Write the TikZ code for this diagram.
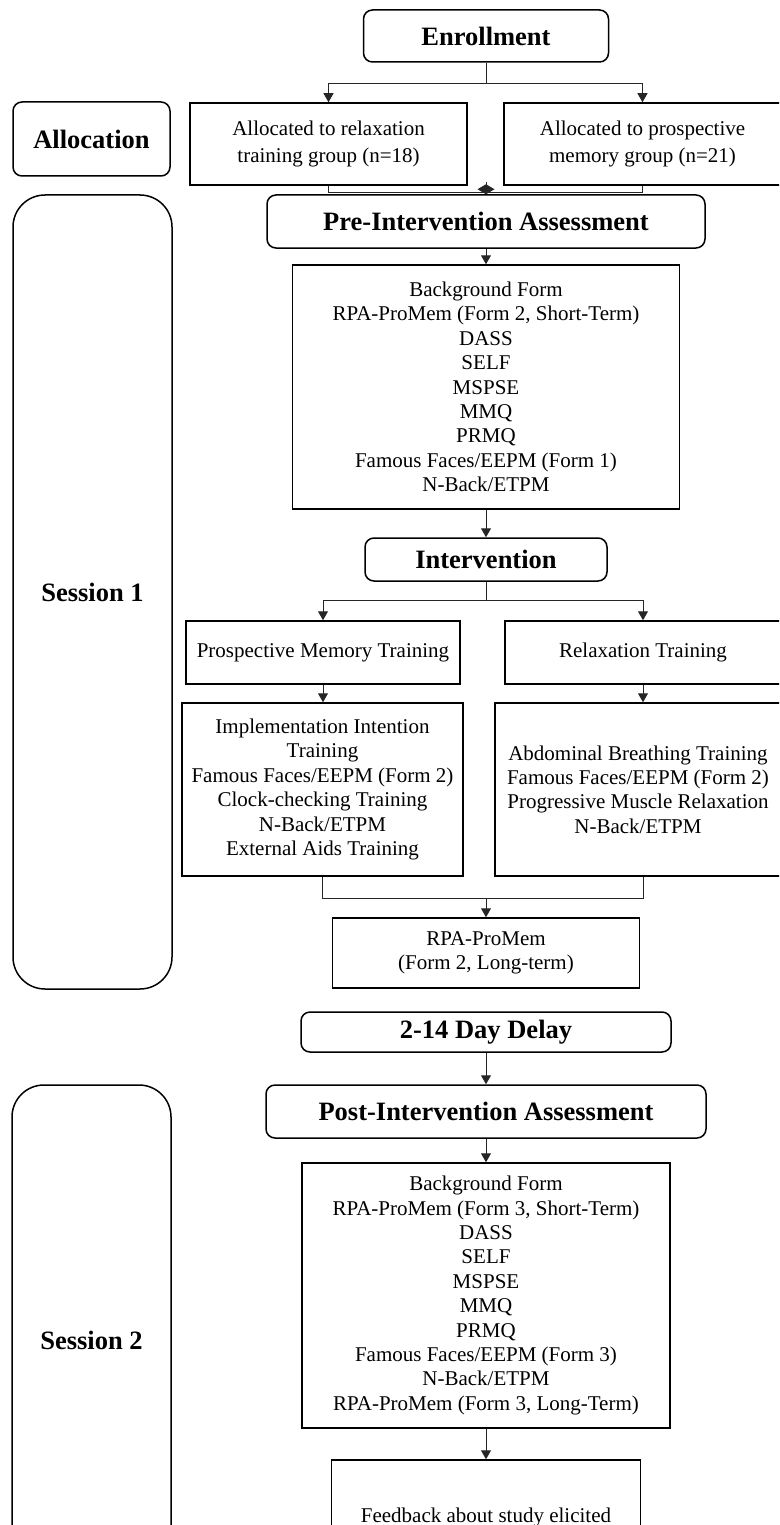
\documentclass[tikz,border=0pt]{standalone}
\usepackage{fontspec}
\setmainfont{Liberation Serif}
\usetikzlibrary{arrows.meta}
\newcommand\tRad{9pt}
\newcommand\sRad{32pt}
\newcommand\bFont{\fontsize{21}{24.4}\selectfont}
\newcommand\hFont{\fontsize{26.5}{30}\selectfont\bfseries}
\tikzstyle{block} = [rectangle, draw=black, line width=1.5pt, inner sep=0pt, align=center, font=\bFont]
\tikzstyle{stage} = [rectangle, rounded corners=\tRad, draw=black, line width=1.5pt, inner sep=0pt, font=\hFont]
\tikzstyle{session} = [stage, rounded corners=\sRad]
\tikzstyle{link} = [draw=black!85, line width=1pt]
\tikzstyle{arrow} = [link, -{Triangle[length=9pt,width=10pt]}]
\tikzstyle{merge} = [link, -{Diamond[length=10pt,width=17pt]}]

\begin{document}
\begin{tikzpicture}[x=1pt, y=-1pt]
\useasboundingbox (0,0) rectangle (779,1525);
\clip (0,0) rectangle (779,1525);

% left column
\node (alloc) [stage, minimum width=157, minimum height=74] at (91.5,139) {Allocation};
\node (sess1) [session, minimum width=159, minimum height=794] at (92.5,592) {Session 1};
\node (sess2) [session, minimum width=159, minimum height=510] at (91.5,1340) {Session 2};

% session 1
\node (enroll) [stage, minimum width=245, minimum height=52] at (486,36) {Enrollment};
\node (grpL) [block, minimum width=277, minimum height=82, font=\fontsize{21}{27}\selectfont] at (328.5,144) {Allocated to relaxation\\training group (n=18)};
\node (grpR) [block, minimum width=277, minimum height=82, font=\fontsize{21}{27}\selectfont] at (642.5,144) {Allocated to prospective\\memory group (n=21)};
\node (pre) [stage, minimum width=438, minimum height=53] at (486,221.5) {Pre-Intervention Assessment};
\node (pretest) [block, minimum width=387, minimum height=244] at (486,387) {Background Form\\RPA-ProMem (Form 2, Short-Term)\\DASS\\SELF\\MSPSE\\MMQ\\PRMQ\\Famous Faces/EEPM (Form 1)\\N-Back/ETPM};
\node (interv) [stage, minimum width=242, minimum height=43] at (486,559.5) {Intervention};
\node (pmt) [block, minimum width=274, minimum height=63] at (323,652.5) {Prospective Memory Training};
\node (relax) [block, minimum width=276, minimum height=63] at (643,652.5) {Relaxation Training};
\node (impl) [block, minimum width=281, minimum height=173] at (322.5,789.5) {Implementation Intention\\Training\\Famous Faces/EEPM (Form 2)\\Clock-checking Training\\N-Back/ETPM\\External Aids Training};
\node (abd) [block, minimum width=286, minimum height=173] at (638,789.5) {Abdominal Breathing Training\\Famous Faces/EEPM (Form 2)\\Progressive Muscle Relaxation\\N-Back/ETPM};
\node (rpa) [block, minimum width=307, minimum height=70] at (486,953) {RPA-ProMem\\(Form 2, Long-term)};

% session 2
\node (delay) [stage, minimum width=370, minimum height=40] at (486,1032) {2-14 Day Delay};
\node (post) [stage, minimum width=440, minimum height=53] at (486,1111.5) {Post-Intervention Assessment};
\node (posttest) [block, minimum width=368, minimum height=265] at (486,1295.5) {Background Form\\RPA-ProMem (Form 3, Short-Term)\\DASS\\SELF\\MSPSE\\MMQ\\PRMQ\\Famous Faces/EEPM (Form 3)\\N-Back/ETPM\\RPA-ProMem (Form 3, Long-Term)};
\node (feedback) [block, minimum width=309, minimum height=115] at (486,1517.5) {Feedback about study elicited};

\draw [arrow] (enroll.south) -- ++(0,21) -| (grpL);
\draw [arrow] (enroll.south) -- ++(0,21) -| (grpR);
\draw [link] (grpL.south) -- ++(0,7) coordinate (mix) -| (grpR.south);
\draw [merge] ([yshift=12pt]pre.north) -- (pre.north);
\draw [arrow] (pre) -- (pretest);
\draw [arrow] (pretest) -- (interv);
\draw [arrow] (interv.south) -- ++(0,19) -| (pmt);
\draw [arrow] (interv.south) -- ++(0,19) -| (relax);
\draw [arrow] (pmt.south) -- (pmt.south |- impl.north);
\draw [arrow] (relax.south) -- (relax.south |- abd.north);
\draw [link] (impl.south) -- ++(0,22) coordinate (mix2) -| (relax.south |- abd.south);
\draw [arrow] (mix2 -| rpa.north) -- (rpa.north);
\draw [arrow] (delay) -- (post);
\draw [arrow] (post) -- (posttest);
\draw [arrow] (posttest) -- (feedback);

\end{tikzpicture}
\end{document}
